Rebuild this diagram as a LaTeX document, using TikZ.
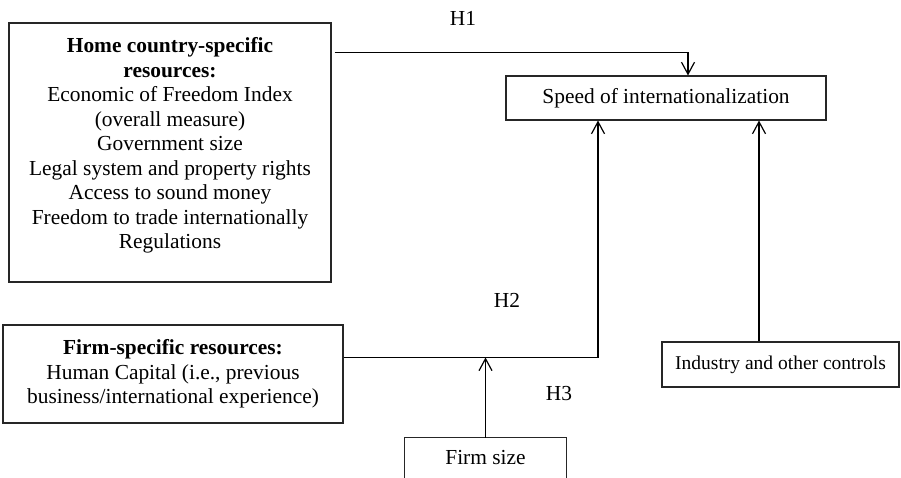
\documentclass[tikz,border=0pt]{standalone}
\usepackage{fontspec}
\setmainfont{Liberation Serif}
\usetikzlibrary{arrows.meta}
\begin{document}
\begin{tikzpicture}[x=1pt,y=-1pt,
  box/.style={draw=black!85, line width=1.1pt, inner sep=0pt},
  txt/.style={align=center, inner sep=0pt, font=\fontsize{21.4}{24.5}\selectfont},
  lbl/.style={inner sep=0pt, font=\fontsize{21.4}{24.5}\selectfont},
  arr/.style={line width=1.2pt, -{Straight Barb[length=12pt,width=13pt,line width=1.2pt]}},
  conn/.style={line width=1.2pt}]
\useasboundingbox (0,0) rectangle (901,478);
% boxes
\node[box, minimum width=322pt, minimum height=259pt] (home) at (170,152.5) {};
\node[txt] (homet) at (170,145.5) {\textbf{Home country-specific}\\\textbf{resources:}\\Economic of Freedom Index\\(overall measure)\\Government size\\Legal system and property rights\\Access to sound money\\Freedom to trade internationally\\Regulations};
\node[box, txt, minimum width=320pt, minimum height=44pt] (speed) at (666,98) {Speed of internationalization};
\node[box, txt, minimum width=340pt, minimum height=98pt] (firm) at (173,374) {\textbf{Firm-specific resources:}\\Human Capital (i.e., previous\\business/international experience)};
\node[box, txt, minimum width=237pt, minimum height=45pt, font=\fontsize{19.5}{22}\selectfont] (ind) at (780.5,364.5) {Industry and other controls};
\node[txt, minimum width=161pt, minimum height=40pt] (fsize) at (485.5,458) {Firm size};
\draw[draw=black!85, line width=1.1pt] (fsize.south west) -- (fsize.north west) -- (fsize.north east) -- (fsize.south east);
% labels
\node[lbl] (h1) at (463,18) {H1};
\node[lbl] (h2) at (507,300) {H2};
\node[lbl] (h3) at (559,394) {H3};
% connectors
\coordinate (h1s) at ([xshift=3pt,yshift=-30pt]home.north east);
\draw[arr] (h1s) -| ([xshift=22pt]speed.north);
\coordinate (h2s) at ([yshift=-33pt]firm.north east);
\draw[arr] (h2s) -| ([xshift=-68pt]speed.south);
\draw[arr] (fsize.north) -- (fsize.north |- h2s);
\draw[arr] ([xshift=-21.5pt]ind.north) -- ([xshift=-21.5pt]ind.north |- speed.south);
\end{tikzpicture}
\end{document}
